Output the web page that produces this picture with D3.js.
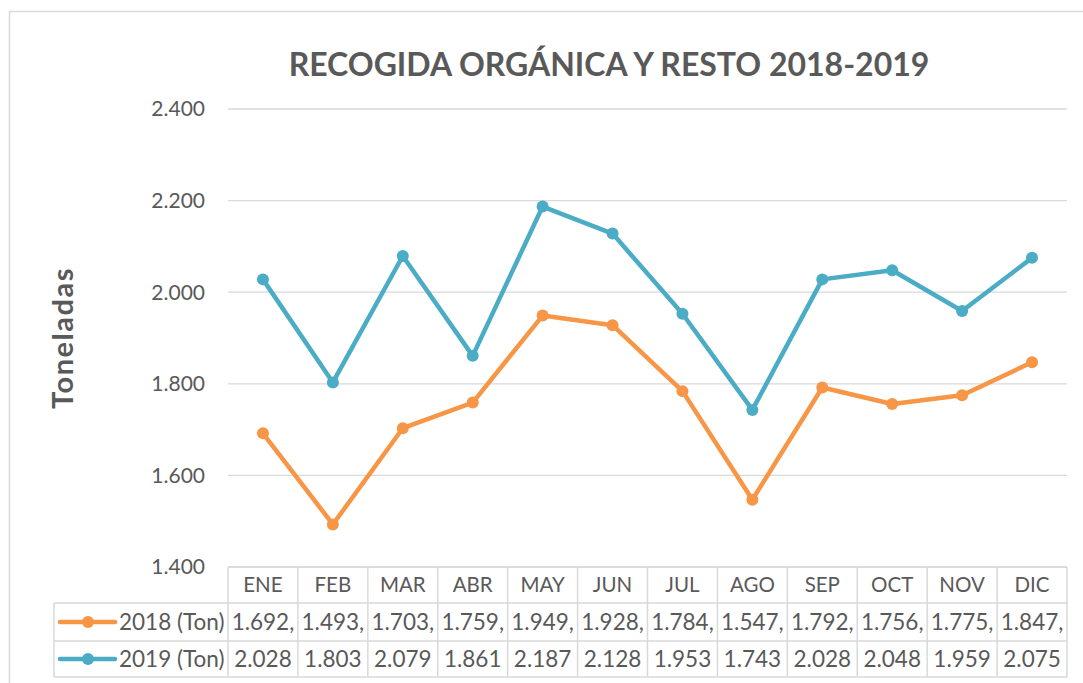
<!DOCTYPE html>
<html>
<head>
<meta charset="utf-8">
<script src="https://cdn.jsdelivr.net/npm/d3@7"></script>
<style>
  body { margin: 0; background: #fff; }
  text { font-family: Lato, "Open Sans", sans-serif; fill: #595959; }
</style>
</head>
<body>
<div id="chart"></div>
<script>
var months = ["ENE", "FEB", "MAR", "ABR", "MAY", "JUN", "JUL", "AGO", "SEP", "OCT", "NOV", "DIC"];
var values2018 = [1692, 1493, 1703, 1759, 1949, 1928, 1784, 1547, 1792, 1756, 1775, 1847];
var values2019 = [2028, 1803, 2079, 1861, 2187, 2128, 1953, 1743, 2028, 2048, 1959, 2075];
var seriesNames = ["2018 (Ton)", "2019 (Ton)"];
var yTicks = [1400, 1600, 1800, 2000, 2200, 2400];

var W = 1083, H = 683;
var colors = ["#F79646", "#4BACC6"];

var svg = d3.select("#chart").append("svg")
    .attr("width", W)
    .attr("height", H);

// chart frame
svg.append("rect")
    .attr("x", 9.5).attr("y", 11.5)
    .attr("width", 1090).attr("height", 700)
    .attr("fill", "none")
    .attr("stroke", "#d9d9d9")
    .attr("stroke-width", 1.5);

var plot = {left: 228, right: 1067, top: 109, bottom: 567};

var x = d3.scaleBand()
    .domain(months)
    .range([plot.left, plot.right]);

var y = d3.scaleLinear()
    .domain([1400, 2400])
    .range([plot.bottom, plot.top]);

// gridlines
svg.append("g").selectAll("line")
    .data(yTicks)
    .enter().append("line")
    .attr("x1", plot.left).attr("x2", plot.right)
    .attr("y1", function(d) { return y(d); })
    .attr("y2", function(d) { return y(d); })
    .attr("stroke", "#d9d9d9")
    .attr("stroke-width", 1.3);

// y tick labels
var fmt = function(d) { return d3.format(",")(d).replace(/,/g, "."); };
svg.append("g").selectAll("text")
    .data(yTicks)
    .enter().append("text")
    .attr("x", 205)
    .attr("y", function(d) { return y(d); })
    .attr("dy", "0.35em")
    .attr("text-anchor", "end")
    .style("font-size", "21px")
    .text(function(d) { return fmt(d); });

// title
svg.append("text")
    .attr("x", 609)
    .attr("y", 76)
    .attr("text-anchor", "middle")
    .style("font-size", "32px")
    .style("font-weight", "bold")
    .text("RECOGIDA ORGÁNICA Y RESTO 2018-2019");

// y axis title
svg.append("text")
    .attr("transform", "translate(73,338) rotate(-90)")
    .attr("text-anchor", "middle")
    .style("font-size", "29px")
    .style("font-weight", "bold")
    .style("letter-spacing", "1.5px")
    .text("Toneladas");

// lines
var line = d3.line()
    .x(function(d, i) { return x(months[i]) + x.bandwidth() / 2; })
    .y(function(d) { return y(d); });

[values2018, values2019].forEach(function(vals, k) {
    var g = svg.append("g");
    g.append("path")
        .datum(vals)
        .attr("d", line)
        .attr("fill", "none")
        .attr("stroke", colors[k])
        .attr("stroke-width", 4.5)
        .attr("stroke-linejoin", "round");
    g.selectAll("circle")
        .data(vals)
        .enter().append("circle")
        .attr("cx", function(d, i) { return x(months[i]) + x.bandwidth() / 2; })
        .attr("cy", function(d) { return y(d); })
        .attr("r", 6)
        .attr("fill", colors[k]);
});

// data table
var rows = [plot.bottom, 603, 641, 677];
var tbl = svg.append("g");
var border = "#d9d9d9";

// horizontal lines
tbl.append("line").attr("x1", plot.left).attr("x2", plot.right)
    .attr("y1", rows[0]).attr("y2", rows[0]).attr("stroke", border).attr("stroke-width", 1.5);
[rows[1], rows[2], rows[3]].forEach(function(r) {
    tbl.append("line").attr("x1", 54).attr("x2", plot.right)
        .attr("y1", r).attr("y2", r).attr("stroke", border).attr("stroke-width", 1.5);
});
// vertical lines
tbl.append("line").attr("x1", 54).attr("x2", 54)
    .attr("y1", rows[1]).attr("y2", rows[3]).attr("stroke", border).attr("stroke-width", 1.5);
var colEdges = months.map(function(m) { return x(m); }).concat([plot.right]);
tbl.selectAll(".vline")
    .data(colEdges)
    .enter().append("line")
    .attr("class", "vline")
    .attr("x1", function(d) { return d; }).attr("x2", function(d) { return d; })
    .attr("y1", rows[0]).attr("y2", rows[3])
    .attr("stroke", border).attr("stroke-width", 1.5);

// header
tbl.selectAll(".mon")
    .data(months)
    .enter().append("text")
    .attr("class", "mon")
    .attr("x", function(d) { return x(d) + x.bandwidth() / 2; })
    .attr("y", (rows[0] + rows[1]) / 2)
    .attr("dy", "0.35em")
    .attr("text-anchor", "middle")
    .style("font-size", "20.5px")
    .text(function(d) { return d; });

// value rows
[values2018, values2019].forEach(function(vals, k) {
    var cy = (rows[k + 1] + rows[k + 2]) / 2;
    tbl.selectAll(".val" + k)
        .data(vals)
        .enter().append("text")
        .attr("class", "val" + k)
        .attr("x", function(d, i) { return x(months[i]) + x.bandwidth() / 2; })
        .attr("y", cy)
        .attr("dy", "0.35em")
        .attr("text-anchor", "middle")
        .style("font-size", "22.5px")
        .text(function(d) { return fmt(d) + (k === 0 ? "," : ""); });

    // legend key
    tbl.append("line")
        .attr("x1", 60).attr("x2", 115)
        .attr("y1", cy).attr("y2", cy)
        .attr("stroke", colors[k])
        .attr("stroke-width", 4.5)
        .attr("stroke-linecap", "round");
    tbl.append("circle")
        .attr("cx", 88).attr("cy", cy).attr("r", 6)
        .attr("fill", colors[k]);
    tbl.append("text")
        .attr("x", 119)
        .attr("y", cy)
        .attr("dy", "0.35em")
        .style("font-size", "22.5px")
        .text(seriesNames[k]);
});
</script>
</body>
</html>
